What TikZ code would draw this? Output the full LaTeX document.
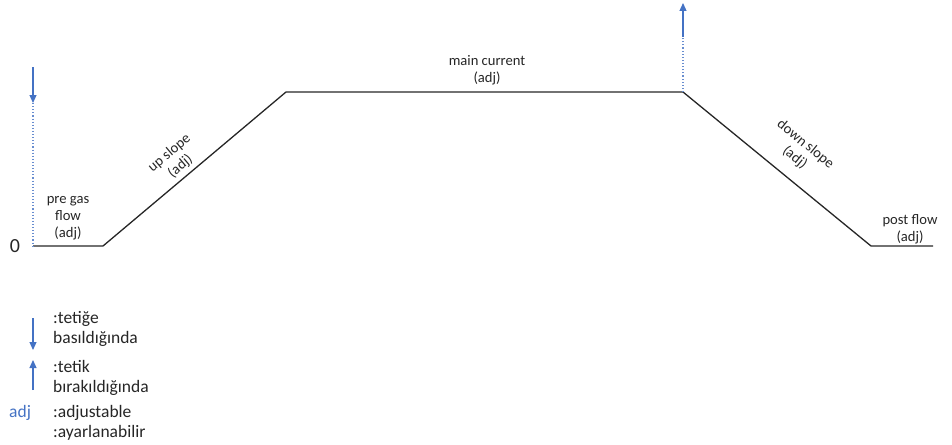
\documentclass[tikz,border=0pt]{standalone}
\usepackage{fontspec}
\setmainfont{Carlito}
\usetikzlibrary{arrows.meta}
\definecolor{offblue}{HTML}{4472C4}
\definecolor{linegray}{HTML}{262626}
\tikzset{
  curve/.style={draw=linegray, line width=1.3pt},
  lbl/.style={font=\fontsize{14.6}{17}\selectfont, text=linegray, align=center, inner sep=0pt},
  leg/.style={font=\fontsize{17.5}{20}\selectfont, text=linegray, align=left, anchor=north west, inner sep=0pt},
  trig/.style={draw=offblue, line width=1.2pt, -{Triangle[length=8pt,width=7pt]}},
  dots/.style={draw=offblue!80, line width=1.1pt, dotted},
}
\begin{document}
\begin{tikzpicture}[x=1pt,y=-1pt]
\useasboundingbox (0,0) rectangle (952,444);
% profile corners
\coordinate (p0) at (33,246);
\coordinate (p1) at (103,246);
\coordinate (p2) at (286,92);
\coordinate (p3) at (683,92);
\coordinate (p4) at (871,246);
\coordinate (p5) at (933,246);
\draw[curve] (p0) -- (p1) -- (p2) -- (p3) -- (p4) -- (p5);
% trigger arrows
\coordinate (dtop) at (33,67);
\coordinate (dmid) at (33,103);
\draw[trig] (dtop) -- (dmid);
\draw[dots] (dmid) -- (p0);
\coordinate (utop) at (683,3);
\coordinate (umid) at (683,37);
\draw[dots] (p3) -- (umid);
\draw[trig] (umid) -- (utop);
% labels
\node[font=\fontsize{20}{22}\selectfont, text=linegray, inner sep=0pt] (zero) at (15,246) {0};
\node[lbl] (pre) at (68,218) {pre gas\\flow\\(adj)};
\node[lbl, rotate=40] (up) at (175,160) {up slope\\(adj)};
\node[lbl] (main) at (487,70) {main current\\(adj)};
\node[lbl, rotate=-39] (down) at (800,151) {down slope\\(adj)};
\node[lbl] (post) at (910,229) {post flow\\(adj)};
% legend
\coordinate (l1a) at (33,318);
\coordinate (l1b) at (33,350);
\draw[trig] (l1a) -- (l1b);
\node[leg] (t1) at (53,311) {:tetiğe\\basıldığında};
\coordinate (l2a) at (33,390);
\coordinate (l2b) at (33,360);
\draw[trig] (l2a) -- (l2b);
\node[leg] (t2) at (53,360) {:tetik\\bırakıldığında};
\node[font=\fontsize{17.5}{20}\selectfont, text=offblue, inner sep=0pt, anchor=north west] (adj) at (9,405) {adj};
\node[leg] (t3) at (53,405) {:adjustable\\:ayarlanabilir};
\end{tikzpicture}
\end{document}
